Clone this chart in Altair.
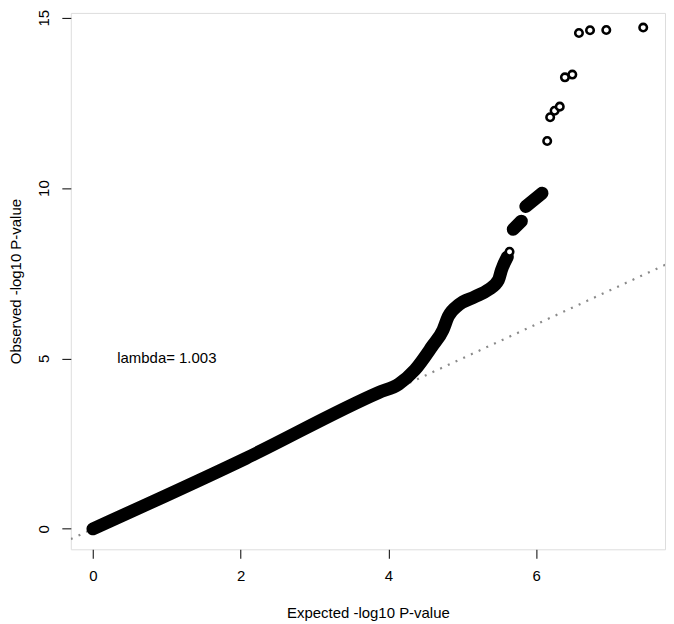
import altair as alt
import pandas as pd

# Dense bands of points, drawn as thick strokes
band_seg = ["a"] * 14 + ["b"] * 2 + ["c"] * 2
band_x = [0.0, 2.07, 3.87, 4.14, 4.36, 4.59, 4.74, 4.81, 4.95, 5.17, 5.35, 5.49, 5.53, 5.61,
          5.69, 5.80,
          5.86, 6.08]
band_y = [0.0, 2.07, 4.00, 4.25, 4.67, 5.35, 5.84, 6.23, 6.57, 6.81, 7.01, 7.30, 7.59, 7.98,
          8.79, 9.03,
          9.46, 9.85]

# Sparse individual points (open circles)
pt_x = [5.64, 6.15, 6.19, 6.25, 6.32, 6.39, 6.49, 6.58, 6.73, 6.95, 7.45]
pt_y = [8.13, 11.38, 12.08, 12.27, 12.39, 13.25, 13.33, 14.55, 14.63, 14.64, 14.71]

# Reference identity line
ref_x = [-0.3, 7.75]
ref_y = [-0.3, 7.75]

x_ticks = [0, 2, 4, 6]
y_ticks = [0, 5, 10, 15]
x_domain = [-0.30, 7.745]
y_domain = [-0.60, 15.14]

label_text = ["lambda= 1.003"]
label_x = [1.0]
label_y = [5.0]

FONT = "Liberation Sans"
W, H = 596, 538

band_df = pd.DataFrame({"seg": band_seg, "x": band_x, "y": band_y})
pt_df = pd.DataFrame({"x": pt_x, "y": pt_y})
ref_df = pd.DataFrame({"x": ref_x, "y": ref_y})
txt_df = pd.DataFrame({"t": label_text, "x": label_x, "y": label_y})

xscale = alt.Scale(domain=x_domain, nice=False, zero=False)
yscale = alt.Scale(domain=y_domain, nice=False, zero=False)

xaxis = alt.Axis(values=x_ticks, title="Expected -log10 P-value", grid=False, domain=False,
                 tickSize=9, tickColor="black", labelFontSize=15, labelFont=FONT,
                 labelColor="black", labelPadding=10, titleFont=FONT, titleFontSize=15,
                 titleFontWeight="normal", titleColor="black", titleX=W / 2, titleY=63,
                 titleBaseline="middle", titleAlign="center", format="d")
yaxis = alt.Axis(values=y_ticks, title="Observed -log10 P-value", grid=False, domain=False,
                 tickSize=9, tickColor="black", labelFontSize=15, labelFont=FONT,
                 labelColor="black", labelAngle=270, labelAlign="center",
                 labelBaseline="bottom", labelPadding=10,
                 titleFont=FONT, titleFontSize=15, titleFontWeight="normal",
                 titleColor="black", titleAngle=270, titleX=-55.5, titleY=H / 2,
                 titleBaseline="middle", titleAlign="center", format="d")

ref = alt.Chart(ref_df).mark_line(color="#8a8a8a", strokeWidth=2.2, strokeDash=[2, 6.5],
                                  clip=True).encode(
    x=alt.X("x:Q", scale=xscale, axis=xaxis),
    y=alt.Y("y:Q", scale=yscale, axis=yaxis),
)

band = alt.Chart(band_df).mark_line(color="black", strokeWidth=13, strokeCap="round",
                                    strokeJoin="round", interpolate="monotone",
                                    clip=True).encode(
    x=alt.X("x:Q", scale=xscale),
    y=alt.Y("y:Q", scale=yscale),
    detail="seg:N",
)

pts = alt.Chart(pt_df).mark_point(shape="circle", size=56, filled=False, stroke="black",
                                  fill="white", fillOpacity=1, strokeWidth=2.6,
                                  opacity=1).encode(
    x=alt.X("x:Q", scale=xscale),
    y=alt.Y("y:Q", scale=yscale),
)

txt = alt.Chart(txt_df).mark_text(font=FONT, fontSize=15, color="black", align="center",
                                  baseline="middle").encode(
    x=alt.X("x:Q", scale=xscale),
    y=alt.Y("y:Q", scale=yscale),
    text="t:N",
)

chart = alt.layer(ref, band, pts, txt).properties(
    width=W, height=H,
    autosize=alt.AutoSizeParams(type="none"),
    padding={"left": 63, "top": 4, "right": 1, "bottom": 71},
).configure_view(stroke="#222222", strokeWidth=1.2).configure(background="white")

chart.save("out.html", embed_options={"renderer": "svg", "actions": False})
